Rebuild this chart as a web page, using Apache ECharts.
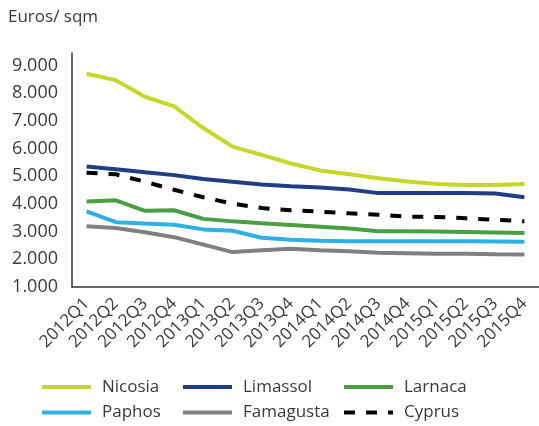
<!DOCTYPE html>
<html>
<head>
<meta charset="utf-8">
<script src="https://cdn.jsdelivr.net/npm/echarts@6/dist/echarts.min.js"></script>
<style>
  html, body { margin: 0; padding: 0; background: #fff; }
  #chart { width: 539px; height: 426px; }
</style>
</head>
<body>
<div id="chart"></div>
<script>
// quarters on the x axis
const quarters = ['2012Q1', '2012Q2', '2012Q3', '2012Q4', '2013Q1', '2013Q2', '2013Q3', '2013Q4',
  '2014Q1', '2014Q2', '2014Q3', '2014Q4', '2015Q1', '2015Q2', '2015Q3', '2015Q4'];

// euros per sqm
const nicosia = [8700, 8470, 7870, 7520, 6740, 6070, 5770, 5460, 5210, 5070, 4930, 4810, 4720, 4680, 4680, 4720];
const limassol = [5350, 5250, 5140, 5040, 4900, 4800, 4700, 4640, 4590, 4520, 4390, 4390, 4390, 4390, 4380, 4240];
const larnaca = [4090, 4130, 3750, 3770, 3460, 3370, 3300, 3240, 3180, 3110, 3010, 3010, 3000, 2990, 2970, 2950];
const paphos = [3730, 3340, 3290, 3250, 3080, 3030, 2780, 2710, 2670, 2650, 2650, 2650, 2650, 2650, 2640, 2630];
const famagusta = [3190, 3130, 2980, 2800, 2530, 2260, 2330, 2380, 2330, 2290, 2240, 2220, 2200, 2200, 2180, 2170];
const cyprus = [5130, 5070, 4800, 4510, 4240, 4010, 3850, 3770, 3720, 3660, 3610, 3540, 3530, 3480, 3430, 3370];

// y axis ticks
const yMin = 1000;
const yMax = 9450;
const yStep = 1000;

const font = "'Open Sans', 'Noto Sans', sans-serif";
const textColor = '#3a3a3a';

const chart = echarts.init(document.getElementById('chart'));

function line(name, data, color, dashed) {
  return {
    name: name,
    type: 'line',
    data: data,
    symbol: 'none',
    smooth: false,
    lineStyle: {
      color: color,
      width: 4,
      type: dashed ? [11, 11] : 'solid',
      cap: 'butt'
    },
    itemStyle: { color: color },
    emphasis: { disabled: true }
  };
}

function legendCol(left, names) {
  return {
    left: left,
    top: 377,
    orient: 'vertical',
    padding: 0,
    itemGap: 5.5,
    itemWidth: 49,
    itemHeight: 20,
    selectedMode: false,
    itemStyle: { opacity: 0 },   // only the line, no dot
    lineStyle: { width: 4 },
    textStyle: {
      fontFamily: font,
      fontSize: 17,
      color: textColor,
      lineHeight: 20,
      padding: [0, 0, 0, 6]
    },
    data: names
  };
}

const option = {
  animation: false,
  title: {
    text: 'Euros/ sqm',
    left: 8,
    top: 9,
    padding: 0,
    textStyle: {
      fontFamily: font,
      fontSize: 17,
      fontWeight: 'normal',
      color: textColor
    }
  },
  legend: [
    legendCol(40, ['Nicosia', 'Paphos']),
    legendCol(181, ['Limassol', 'Famagusta']),
    legendCol(342, ['Larnaca', 'Cyprus'])
  ],
  grid: {
    left: 72,
    right: -3,
    top: 53,
    bottom: 139,
    containLabel: false
  },
  xAxis: {
    type: 'category',
    boundaryGap: true,
    data: quarters,
    axisLine: { lineStyle: { color: '#333', width: 1.5 } },
    axisTick: { show: false },
    axisLabel: {
      interval: 0,
      rotate: 45,
      margin: 14,
      fontFamily: font,
      fontSize: 17,
      color: textColor
    },
    splitLine: { show: false }
  },
  yAxis: {
    type: 'value',
    min: yMin,
    max: yMax,
    interval: yStep,
    axisLine: { show: true, lineStyle: { color: '#333', width: 1.5 } },
    axisTick: { show: false },
    splitLine: { show: false },
    axisLabel: {
      margin: 14,
      fontFamily: font,
      fontSize: 18,
      color: textColor,
      padding: [0, 0, 6, 0],
      formatter: function (v) {
        return v % yStep === 0 ? (v / 1000).toFixed(3) : '';
      }
    }
  },
  series: [
    line('Nicosia', nicosia, '#c6d72c'),
    line('Limassol', limassol, '#213e84'),
    line('Larnaca', larnaca, '#4a9e44'),
    line('Paphos', paphos, '#2eb0e4'),
    line('Famagusta', famagusta, '#808080'),
    line('Cyprus', cyprus, '#000000', true)
  ]
};

chart.setOption(option);
</script>
</body>
</html>
